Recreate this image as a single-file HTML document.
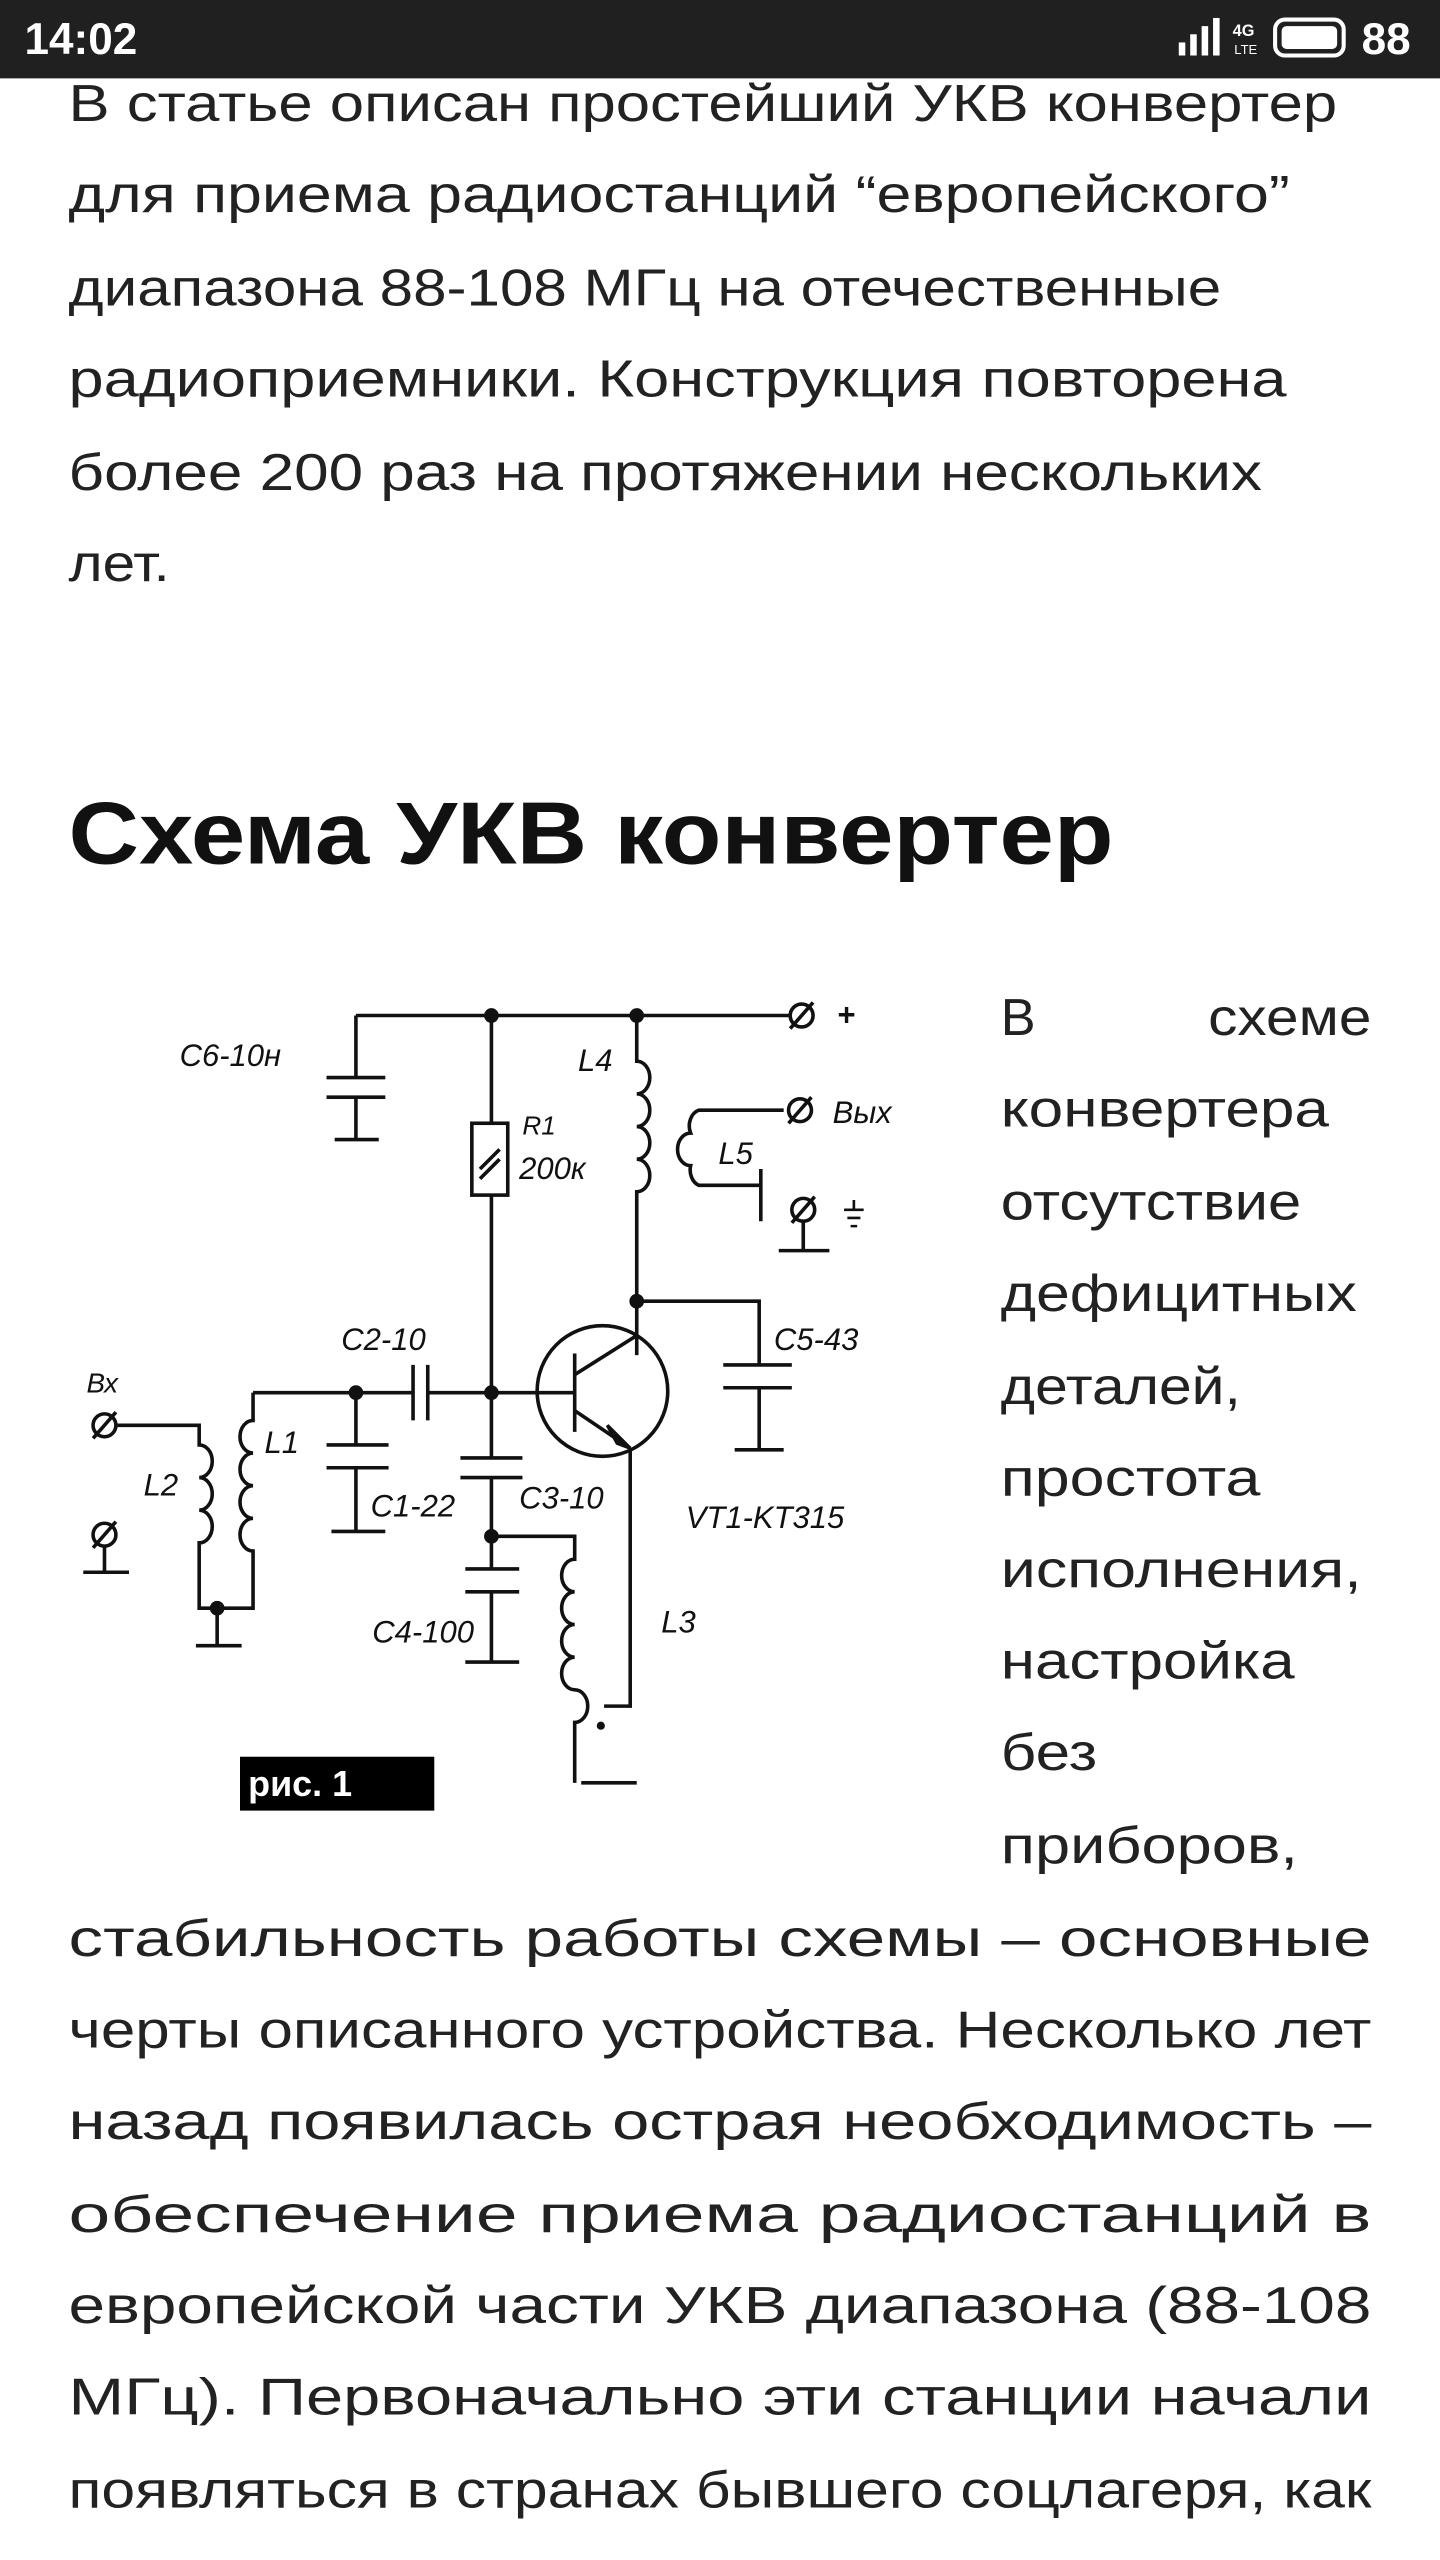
<!DOCTYPE html>
<html><head><meta charset="utf-8"><style>
html,body{margin:0;padding:0;background:#fff;width:1440px;height:2560px;overflow:hidden}
svg{display:block}
.t{font-family:"Liberation Sans",sans-serif;font-size:32px;fill:#222}
.s{font-family:"Liberation Sans",sans-serif;font-style:italic;font-size:19px;fill:#111}
</style></head><body>
<svg width="1440" height="2560" viewBox="0 0 882 1568" xmlns="http://www.w3.org/2000/svg">
<rect x="0" y="0" width="882" height="48" fill="#202020"/>
<text x="15" y="33" font-family="Liberation Sans,sans-serif" font-size="27" font-weight="bold" fill="#fff">14:02</text>
<g fill="#fff">
<rect x="722" y="26" width="4" height="8"/><rect x="729" y="21" width="4" height="13"/><rect x="736" y="16" width="4" height="18"/><rect x="743" y="11" width="4" height="23"/>
<text x="755" y="22" font-family="Liberation Sans,sans-serif" font-size="10" font-weight="bold">4G</text>
<text x="756" y="33" font-family="Liberation Sans,sans-serif" font-size="8">LTE</text>
</g>
<rect x="781" y="12" width="42" height="22" rx="6" fill="none" stroke="#fff" stroke-width="2.5"/>
<rect x="785" y="16" width="34" height="14" rx="3" fill="#fff"/>
<text x="834" y="33" font-family="Liberation Sans,sans-serif" font-size="27" font-weight="bold" fill="#fff">88</text>

<g class="t">
<text x="42" y="74" textLength="777" lengthAdjust="spacingAndGlyphs">В статье описан простейший УКВ конвертер</text>
<text x="42" y="130" textLength="748" lengthAdjust="spacingAndGlyphs">для приема радиостанций “европейского”</text>
<text x="42" y="187" textLength="706" lengthAdjust="spacingAndGlyphs">диапазона 88-108 МГц на отечественные</text>
<text x="42" y="243" textLength="746" lengthAdjust="spacingAndGlyphs">радиоприемники. Конструкция повторена</text>
<text x="42" y="300" textLength="731" lengthAdjust="spacingAndGlyphs">более 200 раз на протяжении нескольких</text>
<text x="42" y="356" textLength="62" lengthAdjust="spacingAndGlyphs">лет.</text>
</g>
<text x="42" y="529" font-family="Liberation Sans,sans-serif" font-size="54" font-weight="bold" fill="#111" textLength="640" lengthAdjust="spacingAndGlyphs">Схема УКВ конвертер</text>

<g class="t">
<text x="613" y="634">В</text>
<text x="740" y="634" textLength="100" lengthAdjust="spacingAndGlyphs">схеме</text>
<text x="613" y="690" textLength="201" lengthAdjust="spacingAndGlyphs">конвертера</text>
<text x="613" y="747" textLength="184" lengthAdjust="spacingAndGlyphs">отсутствие</text>
<text x="613" y="803" textLength="218" lengthAdjust="spacingAndGlyphs">дефицитных</text>
<text x="613" y="860" textLength="147" lengthAdjust="spacingAndGlyphs">деталей,</text>
<text x="613" y="916" textLength="159" lengthAdjust="spacingAndGlyphs">простота</text>
<text x="613" y="972" textLength="221" lengthAdjust="spacingAndGlyphs">исполнения,</text>
<text x="613" y="1028" textLength="180" lengthAdjust="spacingAndGlyphs">настройка</text>
<text x="613" y="1084" textLength="59" lengthAdjust="spacingAndGlyphs">без</text>
<text x="613" y="1141" textLength="182" lengthAdjust="spacingAndGlyphs">приборов,</text>
<text x="42" y="1198" textLength="798" lengthAdjust="spacingAndGlyphs">стабильность работы схемы – основные</text>
<text x="42" y="1254" textLength="798" lengthAdjust="spacingAndGlyphs">черты описанного устройства. Несколько лет</text>
<text x="42" y="1310" textLength="798" lengthAdjust="spacingAndGlyphs">назад появилась острая необходимость –</text>
<text x="42" y="1367" textLength="798" lengthAdjust="spacingAndGlyphs">обеспечение приема радиостанций в</text>
<text x="42" y="1423" textLength="798" lengthAdjust="spacingAndGlyphs">европейской части УКВ диапазона (88-108</text>
<text x="42" y="1479" textLength="798" lengthAdjust="spacingAndGlyphs">МГц). Первоначально эти станции начали</text>
<text x="42" y="1536" textLength="798" lengthAdjust="spacingAndGlyphs">появляться в странах бывшего соцлагеря, как</text>
<text x="42" y="1592" textLength="798" lengthAdjust="spacingAndGlyphs">особенно это было заметно в западной части</text>
</g>

<g stroke="#111" stroke-width="2.2" fill="none">
<path d="M218 622 H483"/>
<circle cx="491" cy="622" r="7"/><path d="M484 630 L498 614"/>
<path d="M218 622 V660 M200 660 H236 M200 672 H236 M218 672 V698 M205 698 H232"/>
<path d="M301 622 V688"/>
<rect x="289" y="688" width="22" height="44"/>
<path d="M294 716 L306 704 M294 722 L306 710"/>
<path d="M301 732 V893 M282 893 H320 M282 905 H320 M301 905 V961 M285 961 H318 M285 975 H318 M301 975 V1018 M285 1018 H318"/>
<path d="M390 622 V650 a8 10 0 0 1 0 20 a8 10 0 0 1 0 20 a8 10 0 0 1 0 20 a8 10 0 0 1 0 20 V830"/>
<path d="M480 680 H428 a8 10 0 0 0 -5 14 a8 10 0 0 0 0 20 a8 10 0 0 0 5 12 H466 M466 716 V748"/>
<circle cx="490" cy="680" r="7"/><path d="M483 688 L497 672"/>
<circle cx="492" cy="741" r="7"/><path d="M485 749 L499 733 M492 748 V766 M477 766 H508"/>
<path d="M517 741 H529 M519 746 H527 M521 751 H525 M523 735 V741" stroke-width="1.6"/>
<path d="M390 797 H465 V836 M443 836 H485 M443 850 H485 M465 850 V888 M450 888 H480"/>
<circle cx="369" cy="852" r="40"/>
<path d="M301 853 H352 M352 829 V877 M352 842 L390 818"/>
<path d="M352 864 L386 887"/>
<path d="M386 887 V1045 H370"/>
<path d="M155 853 H253 M253 836 V870 M262 836 V870 M262 853 H301"/>
<path d="M218 853 V885 M200 885 H238 M200 899 H238 M218 899 V938 M203 938 H236"/>
<path d="M155 853 V870 a8 10 0 0 0 0 20 a8 10 0 0 0 0 20 a8 10 0 0 0 0 20 a8 10 0 0 0 0 20 V985 H133"/>
<path d="M72 873 H122 V885 a8 10 0 0 1 0 20 a8 10 0 0 1 0 20 a8 10 0 0 1 0 20 V985 H133 V1008 M120 1008 H148"/>
<circle cx="64" cy="873" r="7"/><path d="M57 881 L71 865"/>
<circle cx="64" cy="940" r="7"/><path d="M57 948 L71 932 M64 947 V963 M51 963 H79"/>
<path d="M301 941 H352 V955 a8 10 0 0 0 0 20 a8 10 0 0 0 0 20 a8 10 0 0 0 0 20 a8 10 0 0 0 0 20 a8 10 0 0 1 0 20 V1092 M356 1092 H390"/>
</g>
<path d="M386 887 L372 873 L378 884 Z" fill="#111" stroke="#111" stroke-width="2"/>
<g fill="#111">
<circle cx="301" cy="622" r="4.5"/><circle cx="390" cy="622" r="4.5"/><circle cx="390" cy="797" r="4.5"/>
<circle cx="218" cy="853" r="4.5"/><circle cx="301" cy="853" r="4.5"/><circle cx="301" cy="941" r="4.5"/>
<circle cx="133" cy="985" r="4.5"/><circle cx="368" cy="1057" r="2.5"/>
</g>
<g class="s">
<text x="110" y="653">C6-10н</text>
<text x="354" y="656">L4</text>
<text x="320" y="695" font-size="16">R1</text>
<text x="318" y="722">200к</text>
<text x="510" y="688">Вых</text>
<text x="513" y="628" font-style="normal" font-weight="bold">+</text>
<text x="440" y="713">L5</text>
<text x="209" y="827">C2-10</text>
<text x="474" y="827">C5-43</text>
<text x="53" y="853" font-size="17">Вх</text>
<text x="162" y="890">L1</text>
<text x="88" y="916">L2</text>
<text x="227" y="929">C1-22</text>
<text x="318" y="924">C3-10</text>
<text x="420" y="936">VT1-KT315</text>
<text x="228" y="1006">C4-100</text>
<text x="405" y="1000">L3</text>
</g>
<rect x="147" y="1076" width="119" height="33" fill="#000"/>
<text x="152" y="1100" font-family="Liberation Sans,sans-serif" font-size="22" font-weight="bold" fill="#fff">рис. 1</text>
</svg>
</body></html>
